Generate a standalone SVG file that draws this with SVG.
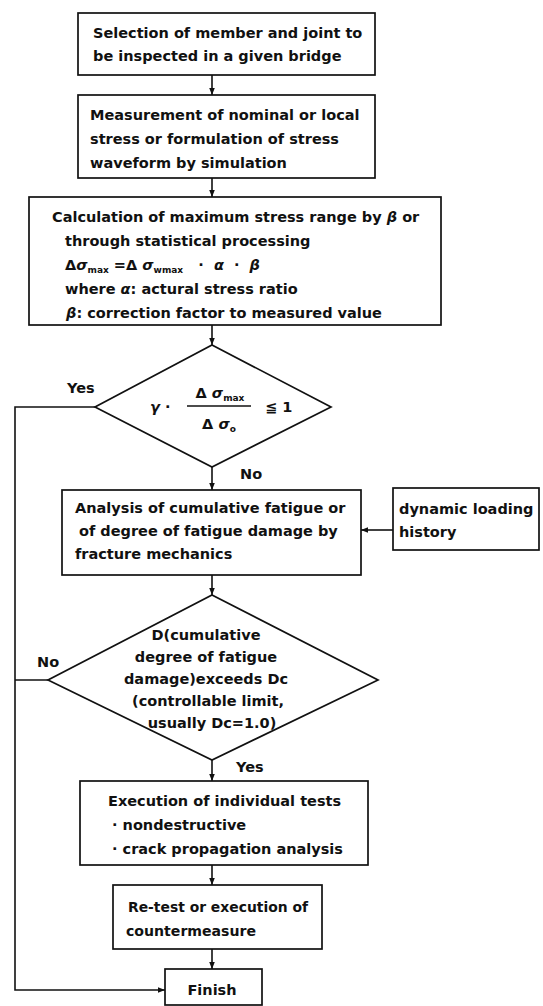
<svg xmlns="http://www.w3.org/2000/svg" width="543" height="1006" viewBox="0 0 543 1006">
<defs>
<marker id="ah" viewBox="0 0 10 10" refX="10" refY="5" markerWidth="7" markerHeight="7" markerUnits="userSpaceOnUse" orient="auto"><path d="M0,1 L10,5 L0,9 z" fill="#111"/></marker>
</defs>
<style>
.box{fill:#fff;stroke:#111;stroke-width:1.7}
.t{font-family:"DejaVu Sans","Liberation Sans",sans-serif;font-size:14.5px;font-weight:bold;fill:#111}
.m{text-anchor:middle}
.g{font-style:italic}
.s{font-size:9px}
.c{stroke:#111;stroke-width:1.6;fill:none}
</style>
<rect width="543" height="1006" fill="#fff"/>

<g id="connectors">
<line class="c" x1="212" y1="75" x2="212" y2="95" marker-end="url(#ah)"/>
<line class="c" x1="212" y1="178" x2="212" y2="197" marker-end="url(#ah)"/>
<line class="c" x1="212" y1="325" x2="212" y2="345" marker-end="url(#ah)"/>
<line class="c" x1="212" y1="467" x2="212" y2="490" marker-end="url(#ah)"/>
<line class="c" x1="393" y1="530" x2="361" y2="530" marker-end="url(#ah)"/>
<line class="c" x1="212" y1="575" x2="212" y2="595" marker-end="url(#ah)"/>
<line class="c" x1="212" y1="760" x2="212" y2="781" marker-end="url(#ah)"/>
<line class="c" x1="212" y1="865" x2="212" y2="885" marker-end="url(#ah)"/>
<line class="c" x1="212" y1="949" x2="212" y2="969" marker-end="url(#ah)"/>
<path class="c" d="M95,407 H15 V990 H165" marker-end="url(#ah)"/>
<path class="c" d="M48,680 H15"/>
<text class="t" x="67" y="393">Yes</text>
<text class="t" x="240" y="479">No</text>
<text class="t" x="37" y="667">No</text>
<text class="t" x="236" y="772">Yes</text>
</g>

<g id="n1">
<rect class="box" x="78" y="13" width="297" height="62"/>
<text class="t" x="93" y="38">Selection of member and joint to</text>
<text class="t" x="93" y="61">be inspected in a given bridge</text>
</g>

<g id="n2">
<rect class="box" x="78" y="95" width="297" height="83"/>
<text class="t" x="90" y="120">Measurement of nominal or local</text>
<text class="t" x="90" y="144">stress or formulation of stress</text>
<text class="t" x="90" y="168">waveform by simulation</text>
</g>

<g id="n3">
<rect class="box" x="29" y="197" width="412" height="128"/>
<text class="t" x="52" y="222">Calculation of maximum stress range by <tspan class="g">β</tspan> or</text>
<text class="t" x="65" y="246">through statistical processing</text>
<text class="t" x="65" y="270">Δ<tspan class="g">σ</tspan><tspan class="s" dy="3">max</tspan><tspan dy="-3"> =Δ </tspan><tspan class="g">σ</tspan><tspan class="s" dy="3">wmax</tspan><tspan dy="-3" xml:space="preserve">   ·  </tspan><tspan class="g">α</tspan><tspan xml:space="preserve">  ·  </tspan><tspan class="g">β</tspan></text>
<text class="t" x="65" y="294">where <tspan class="g">α</tspan>: actural stress ratio</text>
<text class="t" x="66" y="318"><tspan class="g">β</tspan>: correction factor to measured value</text>
</g>

<g id="d1">
<polygon class="box" points="212,345 331,407 212,467 95,407"/>
<text class="t" x="150" y="412"><tspan class="g">γ</tspan> ·</text>
<text class="t m" x="220" y="398" font-size="12">Δ <tspan class="g">σ</tspan><tspan class="s" dy="3">max</tspan></text>
<line class="c" x1="187" y1="406" x2="251" y2="406"/>
<text class="t m" x="219" y="429" font-size="12">Δ <tspan class="g">σ</tspan><tspan class="s" dy="3">o</tspan></text>
<text class="t" x="265" y="412">≦ 1</text>
</g>

<g id="n4">
<rect class="box" x="62" y="490" width="299" height="85"/>
<text class="t" x="75" y="513">Analysis of cumulative fatigue or</text>
<text class="t" x="79" y="536">of degree of fatigue damage by</text>
<text class="t" x="75" y="559">fracture mechanics</text>
</g>

<g id="n5">
<rect class="box" x="393" y="488" width="146" height="62"/>
<text class="t" x="399" y="514">dynamic loading</text>
<text class="t" x="399" y="537">history</text>
</g>

<g id="d2">
<polygon class="box" points="212,595 378,680 212,760 48,680"/>
<text class="t m" x="206" y="640">D(cumulative</text>
<text class="t m" x="206" y="662">degree of fatigue</text>
<text class="t m" x="206" y="684">damage)exceeds Dc</text>
<text class="t m" x="208" y="706">(controllable limit,</text>
<text class="t m" x="212" y="728">usually Dc=1.0)</text>
</g>

<g id="n6">
<rect class="box" x="80" y="781" width="288" height="84"/>
<text class="t" x="108" y="806">Execution of individual tests</text>
<text class="t" x="112" y="830">· nondestructive</text>
<text class="t" x="112" y="854">· crack propagation analysis</text>
</g>

<g id="n7">
<rect class="box" x="113" y="885" width="209" height="64"/>
<text class="t" x="128" y="912" textLength="180" lengthAdjust="spacingAndGlyphs">Re-test or execution of</text>
<text class="t" x="126" y="936" textLength="130" lengthAdjust="spacingAndGlyphs">countermeasure</text>
</g>

<g id="n8">
<rect class="box" x="165" y="969" width="97" height="36"/>
<text class="t m" x="212" y="995">Finish</text>
</g>
</svg>
